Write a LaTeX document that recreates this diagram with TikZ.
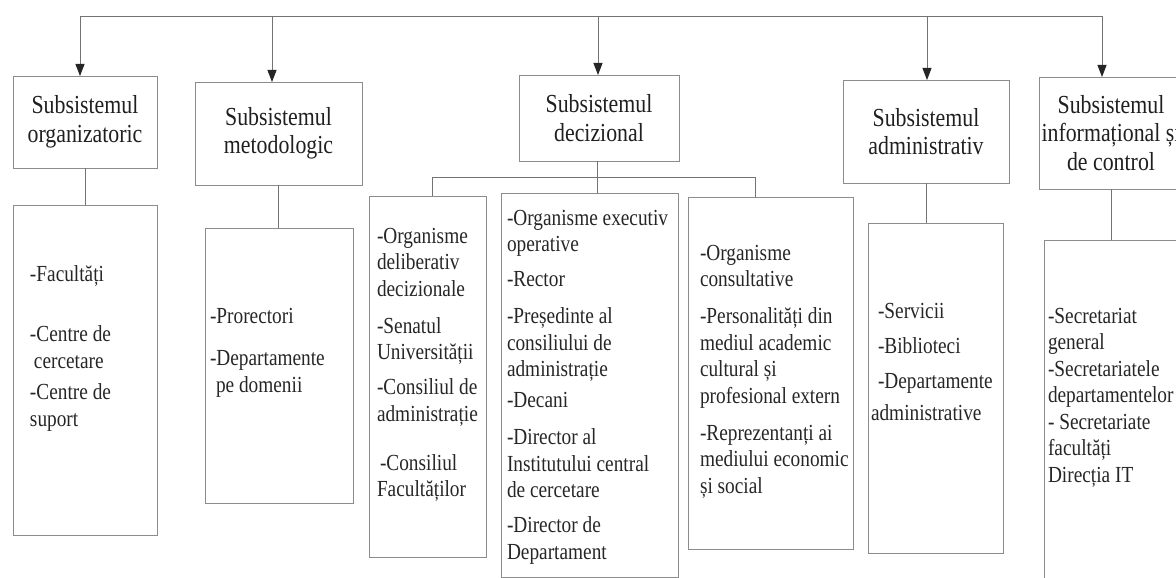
\documentclass[tikz,border=0pt]{standalone}
\usepackage{fontspec}
\setmainfont{Liberation Serif}[FakeStretch=0.84]
\usetikzlibrary{arrows.meta}
\newcommand{\firstln}{\rule{0pt}{20pt}}
\begin{document}
\begin{tikzpicture}[x=1pt,y=-1pt,
  box/.style={draw=black!45, line width=0.9pt, outer sep=0pt, inner sep=0pt},
  hdr/.style={box, align=center, font=\fontsize{26}{28.5}\selectfont, text=black!88},
  lst/.style={align=left, anchor=north west, inner sep=0pt, outer sep=0pt, font=\fontsize{23}{26.5}\selectfont, text=black!85},
  link/.style={draw=black!55, line width=0.9pt},
  arr/.style={link, -{Triangle[length=12pt,width=9pt,color=black!85]}}]
\useasboundingbox (0,0) rectangle (1176,578);

% top-level boxes
\node[hdr, minimum width=144pt, minimum height=92pt] (B1) at (85,122) {Subsistemul\\organizatoric};
\node[hdr, minimum width=167pt, minimum height=103pt] (B2) at (278.5,133.5) {Subsistemul\\metodologic};
\node[hdr, minimum width=160pt, minimum height=86pt] (B3) at (599,118) {Subsistemul\\decizional};
\node[hdr, minimum width=166pt, minimum height=103pt] (B4) at (926,131.5) {Subsistemul\\administrativ};
\node[hdr, minimum width=143pt, minimum height=112pt] (B5) at (1111,133) {Subsistemul\\informațional și\\de control};

% lower boxes
\node[box, minimum width=144pt, minimum height=330pt] (L1) at (85,370) {};
\node[box, minimum width=148pt, minimum height=275pt] (L2) at (279,365.5) {};
\node[box, minimum width=117pt, minimum height=361pt] (L3a) at (427.5,376.5) {};
\node[box, minimum width=177pt, minimum height=384pt] (L3b) at (589.5,385) {};
\node[box, minimum width=165pt, minimum height=352pt] (L3c) at (770.5,373) {};
\node[box, minimum width=135pt, minimum height=330pt] (L4) at (935.5,388) {};
\node[box, minimum width=146pt, minimum height=360pt] (L5) at (1117,420) {};

% texts of lower boxes (y = first baseline - 20)
\node[lst] (T1) at (30,261) {\firstln-Facultăți\\[34pt]-Centre de\\\hspace*{4pt}cercetare\\[5pt]-Centre de\\suport};
\node[lst] (T2) at (210,303) {\firstln-Prorectori\\[16pt]-Departamente\\\hspace*{6pt}pe domenii};
\node[lst] (T3a) at (377,223) {\firstln-Organisme\\deliberativ\\decizionale\\[10.5pt]-Senatul\\Universității\\[8.5pt]-Consiliul de\\administrație\\[22.5pt]\hspace*{3pt}-Consiliul\\Facultăților};
\node[lst] (T3b) at (507,205) {\firstln-Organisme executiv\\operative\\[8.5pt]-Rector\\[10.5pt]-Președinte al\\consiliului de\\administrație\\[4.5pt]-Decani\\[10.5pt]-Director al\\Institutului central\\de cercetare\\[8.5pt]-Director de\\Departament};
\node[lst] (T3c) at (700,240) {\firstln-Organisme\\consultative\\[10.5pt]-Personalități din\\mediul academic\\cultural și\\profesional extern\\[10.5pt]-Reprezentanți ai\\mediului economic\\și social};
\node[lst] (T4) at (878,298) {\firstln-Servicii\\[8.5pt]-Biblioteci\\[8.5pt]-Departamente\\[5.5pt]\hspace*{-7pt}administrative};
\node[lst] (T5) at (1048,303) {\firstln-Secretariat\\general\\-Secretariatele\\departamentelor\\- Secretariate\\facultăți\\Direcția IT};

% top distribution line and arrows
\coordinate (t1) at (80,16);
\coordinate (t2) at (272,16);
\coordinate (t3) at (598,16);
\coordinate (t4) at (927,16);
\coordinate (t5) at (1102,16);
\draw[link] (t1) -- (t5);
\draw[arr] (t1) -- (t1 |- B1.north);
\draw[arr] (t2) -- (t2 |- B2.north);
\draw[arr] (t3) -- (t3 |- B3.north);
\draw[arr] (t4) -- (t4 |- B4.north);
\draw[arr] (t5) -- (t5 |- B5.north);

% connectors to lower boxes
\draw[link] (B1.south) -- (B1.south |- L1.north);
\draw[link] (B2.south) -- (B2.south |- L2.north);
\draw[link] (B4.south) -- (B4.south |- L4.north);
\draw[link] (B5.south) -- (B5.south |- L5.north);

% decisional branch
\coordinate (bm) at (597,177);
\coordinate (bl) at (432,177);
\coordinate (br) at (755,177);
\draw[link] (bm |- B3.south) -- (bm);
\draw[link] (bl) -- (br);
\draw[link] (bl) -- (bl |- L3a.north);
\draw[link] (bm) -- (bm |- L3b.north);
\draw[link] (br) -- (br |- L3c.north);
\end{tikzpicture}
\end{document}
